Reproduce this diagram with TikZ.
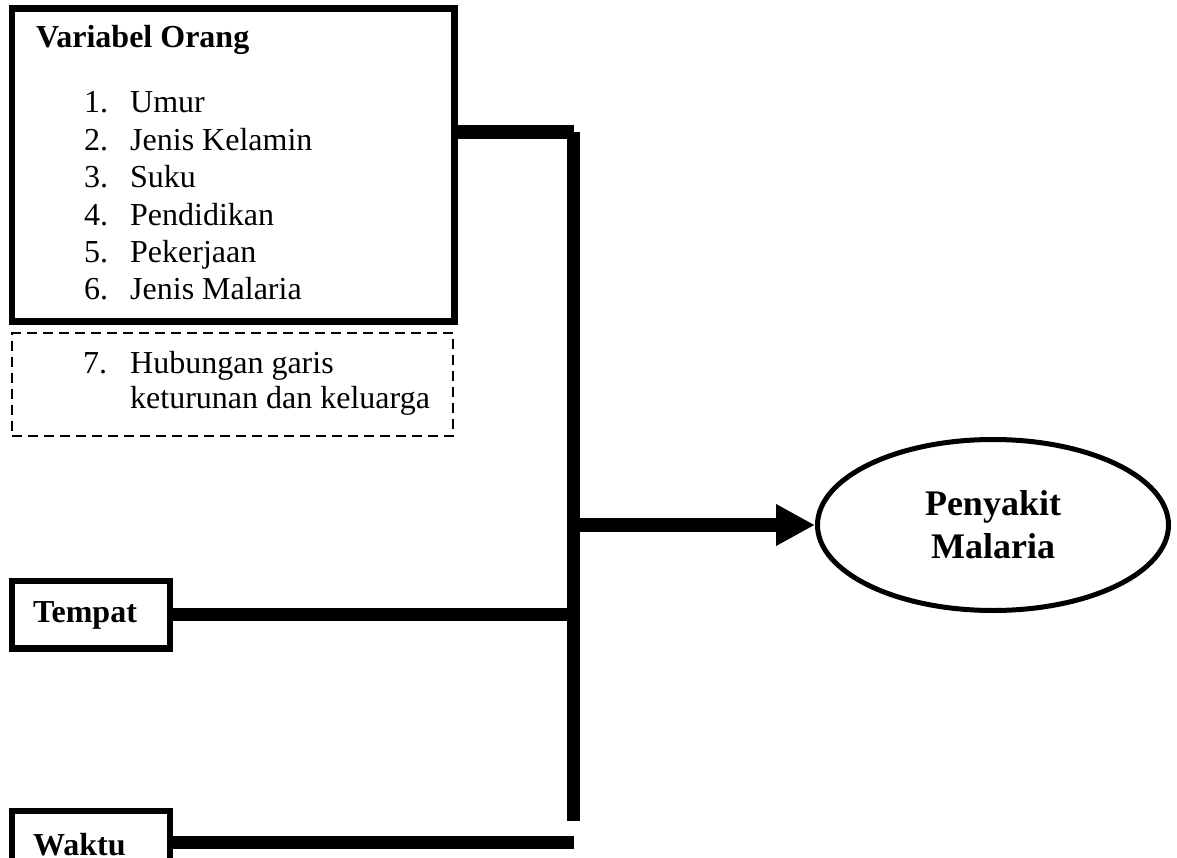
\documentclass[tikz,border=0pt]{standalone}
\usepackage{fontspec}
\setmainfont{Liberation Serif}
\usetikzlibrary{arrows.meta,shapes.geometric}
\begin{document}
\begin{tikzpicture}[x=1pt,y=-1pt,
  box/.style={draw, rectangle, line width=6.5pt, inner sep=0pt},
  dbox/.style={draw, rectangle, line width=2pt, dash pattern=on 10pt off 6pt, inner sep=0pt},
  conn/.style={line width=13.5pt},
  txt/.style={inner sep=0pt, anchor=base west, font=\fontsize{32}{37.5}\selectfont},
  btxt/.style={inner sep=0pt, anchor=base west, font=\fontsize{32}{37.5}\selectfont\bfseries},
]
\useasboundingbox (0,0) rectangle (1177,858);
\clip (0,0) rectangle (1177,858);

% Variabel Orang box
\node[box, minimum width=442.5pt, minimum height=312.8pt] (vo) at (233.25,165.1) {};
\node[btxt] (vot) at (36,48) {Variabel Orang};
\node[txt] (n1) at (84,113) {1.};
\node[txt] (i1) at (130,113) {Umur};
\node[txt] (n2) at (84,150.5) {2.};
\node[txt] (i2) at (130,150.5) {Jenis Kelamin};
\node[txt] (n3) at (84,188) {3.};
\node[txt] (i3) at (130,188) {Suku};
\node[txt] (n4) at (84,225.5) {4.};
\node[txt] (i4) at (130,225.5) {Pendidikan};
\node[txt] (n5) at (84,263) {5.};
\node[txt] (i5) at (130,263) {Pekerjaan};
\node[txt] (n6) at (84,300) {6.};
\node[txt] (i6) at (130,300) {Jenis Malaria};

% dashed box
\node[dbox, minimum width=441pt, minimum height=102.5pt] (hb) at (232.5,384.25) {};
\node[txt] (n7) at (83,373) {7.};
\node[txt] (i7a) at (130,373) {Hubungan garis};
\node[txt] (i7b) at (130,408.5) {keturunan dan keluarga};

% Tempat box
\node[box, minimum width=158pt, minimum height=67.5pt] (tp) at (91,614.5) {};
\node[btxt] (tpt) at (33,622) {Tempat};

% Waktu box
\node[box, minimum width=158pt, minimum height=63pt] (wk) at (91,842.5) {};
\node[btxt] (wkt) at (33,855) {Waktu};

% Penyakit Malaria
\node[ellipse, draw, line width=5pt, minimum width=351pt, minimum height=171pt,
      inner sep=0pt, align=center, font=\fontsize{36}{43}\selectfont\bfseries] (ell) at (993,525) {Penyakit\\Malaria};

% connectors
\coordinate (jt) at (573.5,132);
\coordinate (jb) at (573.5,821);
\draw[conn] (vo.east |- jt) -- (jt);
\draw[conn] (jt) -- (jb);
\draw[conn] (tp.east) -- (tp.east -| jt);
\draw[conn] (wk.east) -- (wk.east -| jt);
\draw[conn, -{Triangle[length=39pt,width=39pt]}] (jt |- ell.west) -- (ell.west);
\end{tikzpicture}
\end{document}
